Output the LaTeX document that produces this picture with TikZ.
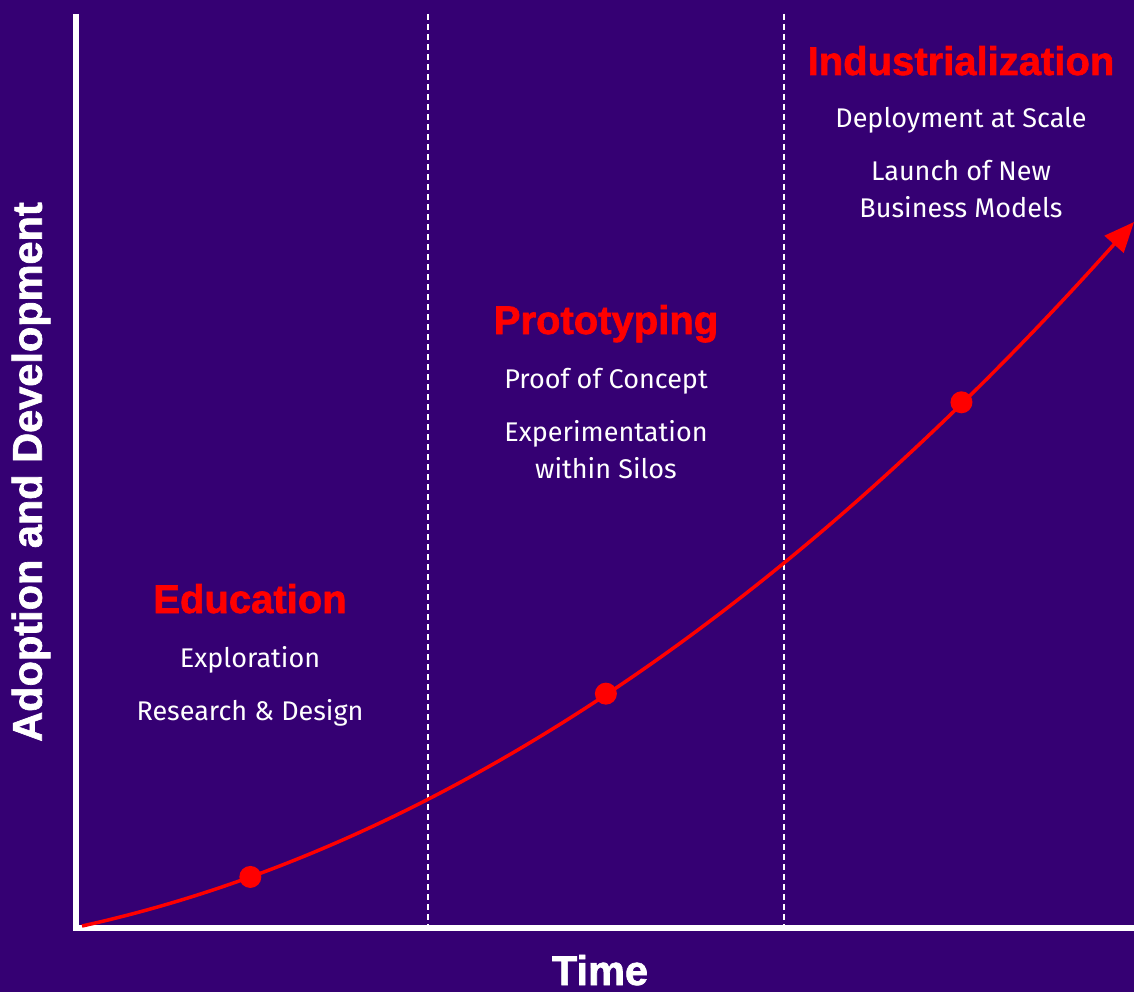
\documentclass[tikz,border=0pt]{standalone}
\usepackage{fontspec}
\setmainfont{Fira Sans}
\newfontfamily\headfont{Liberation Sans}[BoldFeatures={FakeBold=1.6}]
\usetikzlibrary{arrows.meta}
\definecolor{bgpurple}{RGB}{53,0,115}
\definecolor{phasered}{RGB}{255,0,0}
\tikzset{
    axis/.style={white, line width=6pt},
    divider/.style={white, line width=1.5pt, dash pattern=on 6pt off 4pt},
    growth/.style={phasered, line width=3.5pt, -{Triangle[length=30pt,width=25pt]}},
    milestone/.style={circle, fill=phasered, inner sep=0pt, minimum size=22pt},
    phase/.style={anchor=base, text=phasered, inner sep=0pt, font=\headfont\bfseries\fontsize{40}{44}\selectfont},
    detail/.style={anchor=base, text=white, inner sep=0pt, align=center, font=\fontsize{27}{37}\selectfont},
    axislabel/.style={text=white, inner sep=0pt, font=\headfont\bfseries\fontsize{41.5}{45}\selectfont},
}

\begin{document}
\begin{tikzpicture}[x=1pt, y=-1pt]
    \fill[bgpurple] (0,0) rectangle (1134,992);
    \useasboundingbox (0,0) rectangle (1134,992);
    % axes
    \coordinate (ytop) at (76,14);
    \coordinate (corner) at (76,928);
    \coordinate (xend) at (1134,928);
    \draw[axis] (ytop) -- (76,931);
    \draw[axis] (73,928) -- (xend);
    % phase borders
    \coordinate (d1top) at (428,14);
    \coordinate (d1bot) at (428,925);
    \coordinate (d2top) at (784,14);
    \coordinate (d2bot) at (784,925);
    \draw[divider] (d1top) -- (d1bot);
    \draw[divider] (d2top) -- (d2bot);
    % growth curve
    \coordinate (start) at (82,926);
    \coordinate (tip) at (1134,222);
    \draw[growth] (start) .. controls (432.7,849) and (783.3,614.3) .. (tip)
        node[milestone, pos=0.16] (edu) {}
        node[milestone, pos=0.498] (proto) {}
        node[milestone, pos=0.836] (indus) {};
    % phases (two-line details sit on their last baseline)
    \node[phase] (eduT) at (250,613) {Education};
    \node[detail] (eduA) at (250,667) {Exploration};
    \node[detail] (eduB) at (250,720) {Research \& Design};
    \node[phase] (protoT) at (606,334) {Prototyping};
    \node[detail] (protoA) at (606,388) {Proof of Concept};
    \node[detail] (protoB) at (606,478) {Experimentation\\within Silos};
    \node[phase] (indusT) at (961,75) {Industrialization};
    \node[detail] (indusA) at (961,128) {Deployment at Scale};
    \node[detail] (indusB) at (961,218) {Launch of New\\Business Models};
    % axis labels
    \node[axislabel, anchor=base] (time) at (600,985) {Time};
    \node[axislabel, rotate=90] (adopt) at (31,472) {Adoption and Development};
\end{tikzpicture}
\end{document}
